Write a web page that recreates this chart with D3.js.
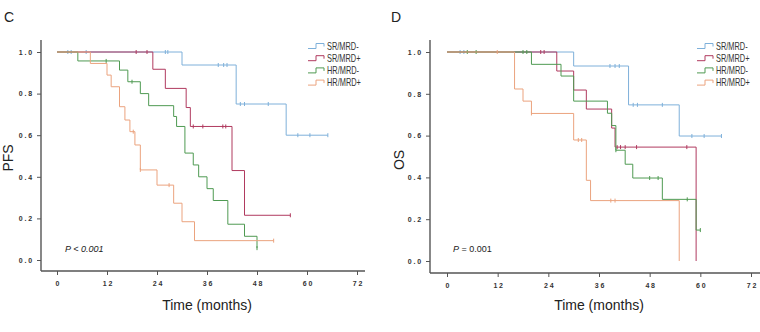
<!DOCTYPE html>
<html>
<head>
<meta charset="utf-8">
<script src="https://cdn.jsdelivr.net/npm/d3@7"></script>
<style>
  body { margin: 0; background: #fff; }
  svg { display: block; font-family: 'Liberation Sans', Arial, sans-serif; }
</style>
</head>
<body>
<svg id="chart" width="760" height="332"></svg>
<script>
const groups = ['SR/MRD-', 'SR/MRD+', 'HR/MRD-', 'HR/MRD+']
const colors = ['#7eb0da', '#b03a5f', '#4f9a52', '#eba37e']
const xTicks = [0, 12, 24, 36, 48, 60, 72]
const yTicks = [0, 0.2, 0.4, 0.6, 0.8, 1.0]

// PFS steps [month, survival], last time, censored months
const pfsSrNeg = [[0, 1], [30, 0.9375], [43, 0.75], [55, 0.6]]
const pfsSrPos = [[0, 1], [23, 0.917], [26, 0.825], [31, 0.733], [32, 0.642], [42, 0.43], [45, 0.215]]
const pfsHrNeg = [[0, 1], [5, 0.957], [15, 0.913], [17, 0.857], [20, 0.8], [22, 0.742], [28, 0.69], [28.7, 0.642], [30.7, 0.514], [32.7, 0.457], [34, 0.4], [36, 0.343], [37.5, 0.286], [41, 0.172], [45, 0.114], [48, 0.057]]
const pfsHrPos = [[0, 1], [8, 0.945], [12, 0.889], [13, 0.833], [15, 0.737], [16.3, 0.673], [17.5, 0.617], [18.7, 0.553], [20, 0.433], [24, 0.36], [28, 0.273], [30, 0.184], [33, 0.093]]
const pfsEnd = [65, 56, 48, 52]
const pfsCensor = [
  [2.6, 3.4, 7, 26, 26.6, 38.7, 40, 40.8, 44, 45, 50.7, 57.8, 60.7, 65],
  [19, 21.6, 32.7, 35, 39.8, 40.5, 56],
  [11.8, 18, 48],
  [18.3, 20, 26.9, 52]
]

// OS
const osSrNeg = [[0, 1], [30, 0.933], [43, 0.747], [55, 0.598]]
const osSrPos = [[0, 1], [26, 0.909], [30, 0.818], [33, 0.727], [39, 0.636], [39.8, 0.545], [59, 0]]
const osHrNeg = [[0, 1], [20, 0.941], [27, 0.885], [30, 0.765], [38, 0.707], [39, 0.648], [40, 0.53], [42.2, 0.463], [44, 0.397], [51, 0.295], [59, 0.148]]
const osHrPos = [[0, 1], [16, 0.823], [18, 0.765], [20, 0.706], [30, 0.579], [33, 0.386], [34, 0.289], [55, 0]]
const osEnd = [65, 59, 60, 55]
const osCensor = [
  [3.1, 4, 38.6, 39.8, 40.8, 44.1, 45.1, 51, 58, 60.9, 65],
  [22.2, 23, 40.3, 41.1, 42.2, 44.9, 56.8],
  [4.8, 6.9, 18, 18.9, 40, 48, 50, 56.9, 60],
  [11.9, 20, 31.1, 31.9, 38.8, 39.8]
]

const svg = d3.select('#chart')

function drawPanel(cfg) {
  const g = svg.append('g')
  const x = d3.scaleLinear().domain([0, 72]).range([cfg.x0, cfg.x72])
  const y = d3.scaleLinear().domain([0, 1]).range([cfg.y0, cfg.y1])

  // panel letter
  g.append('text')
    .attr('x', cfg.letterX)
    .attr('y', 22)
    .style('font-size', '14px')
    .style('fill', '#222')
    .text(cfg.letter)

  // axes
  const xAxis = d3.axisBottom(x).tickValues(xTicks).tickSize(4).tickSizeOuter(0)
  const yAxis = d3.axisLeft(y).tickValues(yTicks).tickSize(4).tickSizeOuter(0)
    .tickFormat(d3.format('.1f'))

  const gx = g.append('g')
    .attr('transform', 'translate(0,' + cfg.axisY + ')')
    .call(xAxis)
  const gy = g.append('g')
    .attr('transform', 'translate(' + cfg.axisX + ',0)')
    .call(yAxis)

  for (const a of [gx, gy]) {
    a.select('.domain').remove()
    a.selectAll('line').attr('stroke', '#555').attr('stroke-width', 1)
    a.selectAll('text')
      .style('font-size', '7px')
      .style('font-weight', 'bold')
      .style('letter-spacing', '1.8px')
      .style('fill', '#333')
  }
  gx.selectAll('text').attr('dy', '1.2em').attr('dx', '0.9px')
  gy.selectAll('text').attr('x', -7)

  g.append('line')
    .attr('x1', cfg.axisX).attr('x2', cfg.axisEnd)
    .attr('y1', cfg.axisY).attr('y2', cfg.axisY)
    .attr('stroke', '#555').attr('stroke-width', 1.4)
  g.append('line')
    .attr('x1', cfg.axisX).attr('x2', cfg.axisX)
    .attr('y1', 40).attr('y2', cfg.axisY)
    .attr('stroke', '#555').attr('stroke-width', 1.4)

  // titles
  g.append('text')
    .attr('x', (cfg.x0 + cfg.x72) / 2)
    .attr('y', 310)
    .attr('text-anchor', 'middle')
    .style('font-size', '14px')
    .style('fill', '#222')
    .text('Time (months)')
  g.append('text')
    .attr('transform', 'translate(' + cfg.titleX + ',' + cfg.titleY + ') rotate(-90)')
    .attr('text-anchor', 'middle')
    .style('font-size', '14px')
    .style('fill', '#222')
    .text(cfg.yTitle)

  // curves
  const line = d3.line()
    .x(d => x(d[0]))
    .y(d => y(d[1]))
    .curve(d3.curveStepAfter)

  cfg.steps.forEach((steps, i) => {
    const last = steps[steps.length - 1]
    const pts = steps.concat(last[0] < cfg.ends[i] ? [[cfg.ends[i], last[1]]] : [])
    g.append('path')
      .attr('d', line(pts))
      .attr('fill', 'none')
      .attr('stroke', colors[i])
      .attr('stroke-width', 1)

    const survAt = t => {
      let s = 1
      for (const p of steps) if (p[0] <= t) s = p[1]
      return s
    }
    g.selectAll(null)
      .data(cfg.censor[i])
      .join('line')
      .attr('x1', d => x(d)).attr('x2', d => x(d))
      .attr('y1', d => y(survAt(d)) - 2)
      .attr('y2', d => y(survAt(d)) + 2)
      .attr('stroke', colors[i])
      .attr('stroke-width', 1)
  })

  // legend
  const leg = g.append('g').attr('transform', 'translate(' + cfg.legX + ',46)')
  groups.forEach((name, i) => {
    const row = leg.append('g').attr('transform', 'translate(0,' + i * 12.2 + ')')
    row.append('path')
      .attr('d', 'M0,2.5 H8 V-2.5 H16 V0.5')
      .attr('fill', 'none')
      .attr('stroke', colors[i])
      .attr('stroke-width', 1)
    row.append('text')
      .attr('transform', 'translate(19,3.5) scale(0.74,1)')
      .style('font-size', '10px')
      .style('fill', '#333')
      .text(name)
  })

  // p value
  const p = g.append('text')
    .attr('x', cfg.pX)
    .attr('y', 252)
    .style('font-size', '9px')
    .style('fill', '#222')
  cfg.pText.forEach(part => {
    p.append('tspan').style('font-style', part[1] ? 'italic' : 'normal').text(part[0])
  })
}

drawPanel({
  letter: 'C', letterX: 4,
  x0: 57, x72: 357, y0: 260, y1: 52,
  axisX: 41, axisY: 271, axisEnd: 365,
  titleX: 13, titleY: 158, yTitle: 'PFS',
  steps: [pfsSrNeg, pfsSrPos, pfsHrNeg, pfsHrPos],
  ends: pfsEnd, censor: pfsCensor,
  legX: 308, pX: 65,
  pText: [['P < 0.001', true]]
})

drawPanel({
  letter: 'D', letterX: 391,
  x0: 447, x72: 751, y0: 261, y1: 52,
  axisX: 430, axisY: 273, axisEnd: 760,
  titleX: 404, titleY: 160, yTitle: 'OS',
  steps: [osSrNeg, osSrPos, osHrNeg, osHrPos],
  ends: osEnd, censor: osCensor,
  legX: 697, pX: 453,
  pText: [['P', true], [' = 0.001', false]]
})
</script>
</body>
</html>
